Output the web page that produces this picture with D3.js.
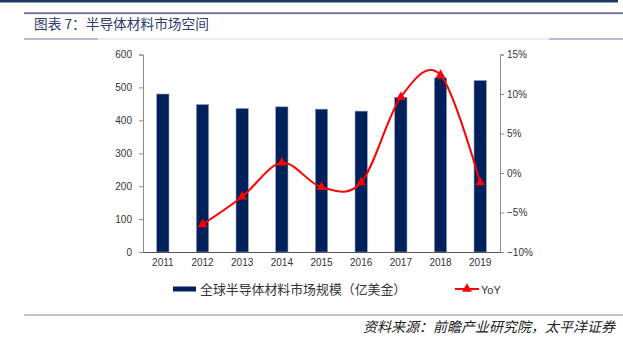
<!DOCTYPE html>
<html>
<head>
<meta charset="utf-8">
<script src="https://cdn.jsdelivr.net/npm/d3@7"></script>
<style>
  html, body { margin: 0; padding: 0; background: #fff; }
  svg { display: block; }
</style>
</head>
<body>
<svg id="chart" width="623" height="341"></svg>
<script>
// Global semiconductor materials market, 2011–2019
const years = ["2011", "2012", "2013", "2014", "2015", "2016", "2017", "2018", "2019"];
const marketSize = [480, 448, 436, 441, 434, 428, 470, 529, 521];          // 亿美金
const yoy = [null, -6.5, -3.0, 1.3, -1.8, -1.2, 9.6, 12.4, -1.2];           // %
const leftTicks = [0, 100, 200, 300, 400, 500, 600];
const rightTicks = [-10, -5, 0, 5, 10, 15];

const svg = d3.select("#chart");
const cjk = "'Noto Sans CJK SC', 'Noto Sans', sans-serif";
const latin = "'Liberation Sans', Arial, sans-serif";

// Page header decoration
svg.append("rect").attr("x", 0).attr("y", 0).attr("width", 618).attr("height", 2.5).attr("fill", "#1f3864");
svg.append("rect").attr("x", 24).attr("y", 12.3).attr("width", 599).attr("height", 1.8).attr("fill", "#6a6a9c");
svg.append("rect").attr("x", 24).attr("y", 38.5).attr("width", 599).attr("height", 1).attr("fill", "#dcd9e6");
svg.append("rect").attr("x", 24).attr("y", 38.3).attr("width", 74).attr("height", 1.4).attr("fill", "#aaa6ca");
svg.append("rect").attr("x", 549).attr("y", 38.3).attr("width", 74).attr("height", 1.4).attr("fill", "#aaa6ca");

svg.append("text")
  .attr("x", 34).attr("y", 29)
  .attr("font-family", cjk).attr("font-size", 13.7)
  .attr("fill", "#2e3b6e")
  .text("图表 7：半导体材料市场空间");

// Plot area
const plotL = 143, plotR = 500, plotT = 54.5, plotB = 252;

const x = d3.scaleBand().domain(years).range([plotL, plotR]).paddingInner(0.69).paddingOuter(0.345);
const yL = d3.scaleLinear().domain([0, 600]).range([plotB, plotT]);
const yR = d3.scaleLinear().domain([-10, 15]).range([plotB, plotT]);

// Bars
svg.append("g").selectAll("rect")
  .data(years.map((yr, i) => ({ yr, v: marketSize[i] })))
  .join("rect")
  .attr("x", d => x(d.yr))
  .attr("y", d => yL(d.v))
  .attr("width", x.bandwidth())
  .attr("height", d => yL(0) - yL(d.v))
  .attr("fill", "#00205b")
  .attr("stroke", "#8e9cc0").attr("stroke-width", 0.6);

// Axes
const styleAxis = g => {
  g.select(".domain").attr("stroke", "#8c8c8c");
  g.selectAll(".tick line").attr("stroke", "#8c8c8c");
  g.selectAll(".tick text").attr("fill", "#333").attr("font-family", latin).attr("font-size", 10);
};

svg.append("g")
  .attr("transform", `translate(${plotL},0)`)
  .call(d3.axisLeft(yL).tickValues(leftTicks).tickSize(4).tickSizeOuter(4).tickPadding(7))
  .call(styleAxis);

svg.append("g")
  .attr("transform", `translate(${plotR},0)`)
  .call(d3.axisRight(yR).tickValues(rightTicks).tickSize(4).tickSizeOuter(4).tickPadding(3)
    .tickFormat(d => (d < 0 ? "\u2212" + Math.abs(d) : d) + "%"))
  .call(styleAxis);

const xAxis = svg.append("g")
  .attr("transform", `translate(0,${plotB})`)
  .call(d3.axisBottom(x).tickSize(0).tickSizeOuter(0).tickPadding(7))
  .call(styleAxis);
xAxis.select(".domain").attr("stroke", "#555");

// YoY smoothed line with triangle markers
const pts = years.map((yr, i) => ({ yr, v: yoy[i] })).filter(d => d.v !== null);
const cx = d => x(d.yr) + x.bandwidth() / 2;

svg.append("path")
  .datum(pts)
  .attr("fill", "none")
  .attr("stroke", "#ff0000")
  .attr("stroke-width", 2)
  .attr("d", d3.line().x(cx).y(d => yR(d.v)).curve(d3.curveCardinal.tension(0)));

const tri = d3.symbol().type(d3.symbolTriangle).size(42);
svg.append("g").selectAll("path")
  .data(pts)
  .join("path")
  .attr("transform", d => `translate(${cx(d)},${yR(d.v)})`)
  .attr("d", tri)
  .attr("fill", "#ff0000");

// Legend
svg.append("rect").attr("x", 173).attr("y", 286.5).attr("width", 23).attr("height", 5).attr("fill", "#00205b");
svg.append("text").attr("x", 200).attr("y", 294)
  .attr("font-family", cjk).attr("font-size", 12.9).attr("fill", "#333")
  .text("全球半导体材料市场规模（亿美金）");

svg.append("line").attr("x1", 455).attr("x2", 479).attr("y1", 289).attr("y2", 289)
  .attr("stroke", "#ff0000").attr("stroke-width", 2);
svg.append("path").attr("transform", "translate(467,289)").attr("d", tri).attr("fill", "#ff0000");
svg.append("text").attr("x", 481).attr("y", 293.5)
  .attr("font-family", latin).attr("font-size", 11).attr("fill", "#333")
  .text("YoY");

// Footer
svg.append("rect").attr("x", 24).attr("y", 314.3).attr("width", 599).attr("height", 1.4).attr("fill", "#aaa6cc");
svg.append("text").attr("x", 615).attr("y", 331.5).attr("text-anchor", "end")
  .attr("font-family", cjk).attr("font-size", 14).attr("font-style", "italic").attr("fill", "#222")
  .text("资料来源：前瞻产业研究院，太平洋证券");
</script>
</body>
</html>
